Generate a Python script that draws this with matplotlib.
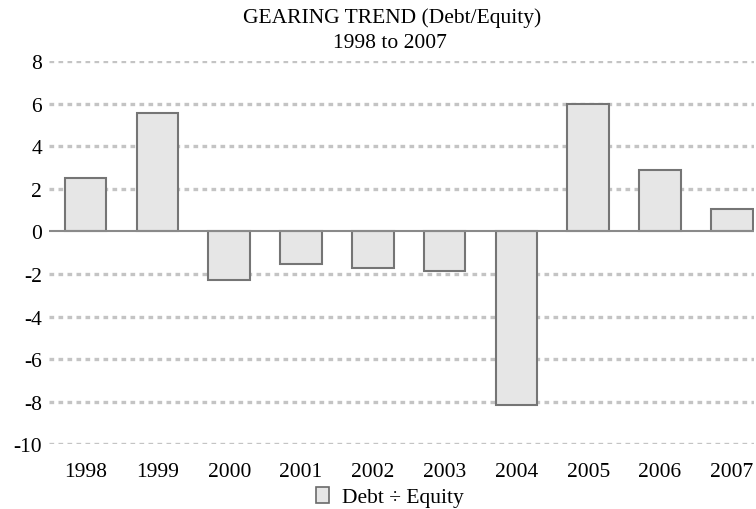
import matplotlib
matplotlib.use("Agg")
import matplotlib.pyplot as plt
from matplotlib.patches import Patch

# =========================================================
# DATA
# =========================================================
years = ["1998", "1999", "2000", "2001", "2002", "2003", "2004", "2005", "2006", "2007"]
gearing = [2.5, 5.55, -2.27, -1.53, -1.72, -1.86, -8.15, 6.0, 2.86, 1.05]
y_ticks = [8, 6, 4, 2, 0, -2, -4, -6, -8, -10]

plt.rcParams["font.family"] = ["Liberation Serif", "DejaVu Serif"]

# =========================================================
# FIGURE
# =========================================================
fig = plt.figure(figsize=(7.56, 5.10), dpi=100)
ax = fig.add_axes([49 / 756, 1 - 445.3 / 510, (754 - 49) / 756, (445.3 - 62) / 510])

x = list(range(len(years)))
ax.bar(x, gearing, width=0.58, color="#e6e6e6", edgecolor="#757575",
       linewidth=1.5, zorder=3)

ax.set_ylim(-10, 8)
ax.set_xlim(-0.51, 9.31)
ax.set_yticks(y_ticks)
ax.set_yticklabels([str(t) for t in y_ticks], fontsize=15.5)
ax.set_xticks(x)
ax.set_xticklabels(years, fontsize=15.5)
ax.tick_params(length=0, pad=5)
ax.tick_params(axis="x", pad=13)

for t in y_ticks:
    if t != 0:
        ax.axhline(t, color="#c4c4c4", linewidth=2.4, linestyle=(0, (1.4, 1.3)), zorder=1)
ax.axhline(0, color="#8a8a8a", linewidth=1.5, zorder=4)

for s in ax.spines.values():
    s.set_visible(False)

fig.text(392 / 756, 1 - 18 / 510, "GEARING TREND (Debt/Equity)", ha="center", va="center", fontsize=15.5)
fig.text(390 / 756, 1 - 43 / 510, "1998 to 2007", ha="center", va="center", fontsize=15.5)

handle = Patch(facecolor="#e6e6e6", edgecolor="#6a6a6a", linewidth=1.2)
fig.legend([handle], ["Debt \u00f7 Equity"], loc="center", bbox_to_anchor=(390 / 756, 1 - 498 / 510),
           frameon=False, fontsize=15.5, handlelength=0.6, handleheight=0.8, handletextpad=0.6)

plt.savefig("out.png", dpi=100)
